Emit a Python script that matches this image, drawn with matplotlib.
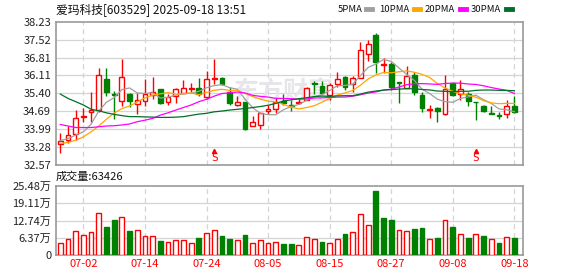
import numpy as np
import matplotlib
matplotlib.use('Agg')
import matplotlib.pyplot as plt
from matplotlib.lines import Line2D

plt.rcParams['font.family'] = ['Noto Sans CJK SC', 'DejaVu Sans']

# daily candles, 60 trading days
opens = [33.38, 33.55, 33.79, 34.46, 34.65, 34.74, 35.96, 35.39, 35.11, 35.37,
         34.96, 35.09, 35.33, 35.56, 35.07, 35.29, 35.42, 35.59, 35.63, 35.24,
         35.98, 35.99, 35.46, 34.94, 35.07, 34.12, 34.15, 34.71, 34.78, 35.11,
         34.94, 35.02, 35.13, 35.82, 35.69, 35.33, 35.78, 36.04, 35.78, 36.02,
         36.94, 37.69, 36.53, 36.56, 35.84, 35.63, 36.12, 35.33, 34.75, 34.83,
         34.58, 35.79, 35.38, 35.37, 35.07, 34.90, 34.63, 34.53, 34.59, 34.90]
highs = [33.82, 34.11, 34.76, 34.84, 35.46, 36.41, 36.41, 35.49, 36.74, 35.40,
         35.40, 35.95, 36.03, 35.56, 35.37, 35.62, 35.92, 35.82, 35.99, 36.28,
         36.74, 36.06, 35.66, 35.31, 35.07, 34.50, 34.67, 34.94, 35.20, 35.37,
         35.13, 35.16, 35.66, 35.88, 35.88, 35.79, 36.24, 36.08, 36.10, 37.43,
         37.51, 37.77, 36.78, 36.65, 35.86, 36.48, 36.26, 35.46, 34.94, 34.85,
         36.12, 35.81, 35.92, 35.46, 35.07, 34.94, 34.91, 34.67, 35.13, 35.30]
lows = [33.05, 33.45, 33.55, 34.28, 34.28, 34.67, 35.29, 34.38, 34.91, 34.87,
        34.57, 34.90, 35.17, 34.98, 34.94, 35.00, 35.40, 35.46, 35.29, 35.16,
        35.75, 35.73, 34.94, 34.90, 33.95, 34.10, 33.99, 34.58, 34.61, 34.94,
        34.71, 34.96, 35.13, 35.36, 35.36, 35.13, 35.66, 35.53, 35.46, 35.99,
        36.67, 36.21, 36.21, 35.53, 35.03, 35.60, 35.33, 34.65, 34.41, 34.28,
        34.55, 35.31, 35.13, 34.90, 34.34, 34.65, 34.59, 34.37, 34.41, 34.63]
closes = [33.51, 33.74, 34.41, 34.49, 34.76, 36.12, 35.46, 35.34, 36.06, 35.09,
          35.13, 35.37, 35.46, 35.03, 35.24, 35.56, 35.60, 35.62, 35.37, 35.95,
          36.00, 35.77, 35.03, 35.07, 34.01, 34.28, 34.63, 34.80, 35.04, 35.02,
          34.90, 35.05, 35.60, 35.78, 35.40, 35.74, 35.98, 35.66, 36.02, 37.10,
          37.35, 36.65, 36.56, 35.66, 35.80, 36.08, 35.46, 34.83, 34.78, 34.70,
          35.59, 35.33, 35.59, 35.09, 35.04, 34.70, 34.60, 34.50, 34.91, 34.67]

# volume in 万 and colour (1 = red)
volumes = [4.41, 6.00, 8.82, 7.35, 8.46, 15.40, 10.40, 13.00, 14.00, 8.95,
           9.30, 7.00, 7.00, 5.27, 4.78, 5.50, 5.50, 4.41, 6.37, 8.10,
           9.20, 7.10, 6.00, 5.60, 7.50, 4.40, 5.50, 4.40, 4.80, 4.20,
           4.17, 3.68, 6.62, 5.88, 4.90, 4.41, 5.88, 7.84, 8.45, 15.07,
           11.03, 23.64, 13.72, 12.99, 9.31, 8.94, 9.68, 10.05, 6.00, 6.37,
           12.99, 10.41, 7.84, 6.37, 7.84, 7.11, 6.00, 4.53, 6.74, 6.3426]
vol_red = [1, 1, 1, 1, 1, 1, 0, 0, 1, 0, 1, 1, 1, 0, 1, 1, 1, 1, 0, 1,
           1, 0, 0, 1, 0, 1, 1, 1, 1, 0, 0, 1, 1, 1, 0, 1, 1, 0, 1, 1,
           1, 0, 0, 0, 1, 1, 0, 0, 1, 0, 1, 0, 1, 0, 1, 0, 1, 0, 1, 0]

# moving averages before a full window is visible
ma5_lead = [33.53, 33.62, 33.75, 33.88]
ma10_lead = [33.42, 33.46, 33.55, 33.68, 33.88, 34.11, 34.38, 34.62, 34.80]
ma20_lead = [34.17, 34.11, 34.05, 34.05, 34.05, 34.08, 34.11, 34.12, 34.15, 34.19,
             34.28, 34.34, 34.41, 34.54, 34.63, 34.74, 34.84, 34.94, 35.07]
ma30_lead = [35.37, 35.20, 35.07, 34.94, 34.77, 34.71, 34.63, 34.57, 34.52, 34.48,
             34.48, 34.47, 34.46, 34.45, 34.45, 34.46, 34.48, 34.53, 34.58, 34.61,
             34.67, 34.70, 34.74, 34.77, 34.80, 34.84, 34.88, 34.93, 35.00]

date_pos = [3, 11, 19, 27, 35, 43, 51, 59]
date_labels = ['07-02', '07-14', '07-24', '08-05', '08-15', '08-27', '09-08', '09-18']
price_ticks = [32.57, 33.28, 33.99, 34.69, 35.40, 36.11, 36.81, 37.52, 38.23]
vol_ticks = [0, 6.37, 12.74, 19.11, 25.48]
vol_tick_labels = ['0', '6.37万', '12.74万', '19.11万', '25.48万']
s_marks = [20, 54]

RED = '#ff0000'
GREEN = '#008000'
GRID = '#d4d4d4'
SPINE = '#9a9a9a'


def moving_avg(lead, n):
    c = np.array(closes)
    out = list(lead)
    for i in range(len(lead), len(c)):
        out.append(c[i - n + 1:i + 1].mean())
    return np.array(out)


ma5 = moving_avg(ma5_lead, 5)
ma10 = moving_avg(ma10_lead, 10)
ma20 = moving_avg(ma20_lead, 20)
ma30 = moving_avg(ma30_lead, 30)

fig = plt.figure(figsize=(5.78, 2.76), dpi=100)
ax1 = fig.add_axes([0.0969, 0.4022, 0.8080, 0.5192])
ax2 = fig.add_axes([0.0969, 0.075, 0.8080, 0.251])

x = np.arange(len(closes))
o = np.array(opens)
c = np.array(closes)
up = c >= o
cols = np.where(up, RED, GREEN)

for ax in (ax1, ax2):
    ax.set_xlim(-0.56, 60.13)
    for s in ax.spines.values():
        s.set_color(SPINE)
        s.set_linewidth(1.2)
    ax.tick_params(length=0, labelsize=8, colors='#222222')
    for p in date_pos:
        ax.axvline(p, color=GRID, lw=0.9, ls=(0, (4, 3)), zorder=0)

# price panel
ax1.set_ylim(32.57, 38.23)
ax1.set_yticks(price_ticks)
ax1.set_yticklabels(['%.2f' % t for t in price_ticks])
ax1.set_xticks([])
for t in price_ticks[1:-1]:
    ax1.axhline(t, color=GRID, lw=0.9, zorder=0)

ax1.text(29, 35.45, '东方财富', fontsize=18, color='#e6e6ea', ha='center', va='center',
         fontweight='bold', zorder=0)

ax1.vlines(x, lows, highs, colors=cols, lw=1, zorder=2)
body_h = np.maximum(np.abs(c - o), 0.025)
body_b = np.minimum(c, o)
ax1.bar(x, body_h, bottom=body_b, width=0.62,
        color=np.where(up, 'white', GREEN), edgecolor=cols, lw=1, zorder=3)

ax1.plot(x, ma5, color='#a0a0a0', lw=0.9, zorder=4)
ax1.plot(x, ma10, color='#ffa500', lw=0.9, zorder=4)
ax1.plot(x, ma20, color='#ff00ff', lw=0.9, zorder=4)
ax1.plot(x, ma30, color='#006f2a', lw=0.9, zorder=4)

for s in s_marks:
    ax1.plot(s, 33.13, marker='^', ms=3, color=RED, zorder=5)
    ax1.text(s, 32.84, 'S', color=RED, fontsize=8, ha='center', va='center',
             family='DejaVu Sans Mono', zorder=5)

# volume panel
ax2.set_ylim(0, 25.48)
ax2.set_yticks(vol_ticks)
ax2.set_yticklabels(vol_tick_labels)
for t in vol_ticks[1:-1]:
    ax2.axhline(t, color=GRID, lw=0.9, zorder=0)
vr = np.array(vol_red) == 1
ax2.bar(x, volumes, width=0.62, color=np.where(vr, 'white', GREEN),
        edgecolor=np.where(vr, RED, GREEN), lw=1, zorder=3)
ax2.set_xticks(date_pos)
ax2.set_xticklabels(date_labels, color=RED)
ax2.tick_params(axis='x', pad=3)

# header texts
fig.text(0.097, 0.966, '爱玛科技[603529] 2025-09-18 13:51', fontsize=8.5,
         color='#111111', va='center')
legend = [('5PMA', '#a0a0a0', 338, 366), ('10PMA', '#ffa500', 379, 414),
          ('20PMA', '#ff00ff', 425, 460), ('30PMA', '#006f2a', 471, 506)]
for name, col, px, mx in legend:
    fig.text(px / 578, 0.966, name, fontsize=6.8, color='#111111', va='center')
    fig.add_artist(Line2D([mx / 578, (mx + 6) / 578], [0.966, 0.966], color=col, lw=3.5))
fig.text(0.097, 0.359, '成交量:63426', fontsize=8, color='#111111', va='center')

fig.savefig('out.png', dpi=100, facecolor='white')
